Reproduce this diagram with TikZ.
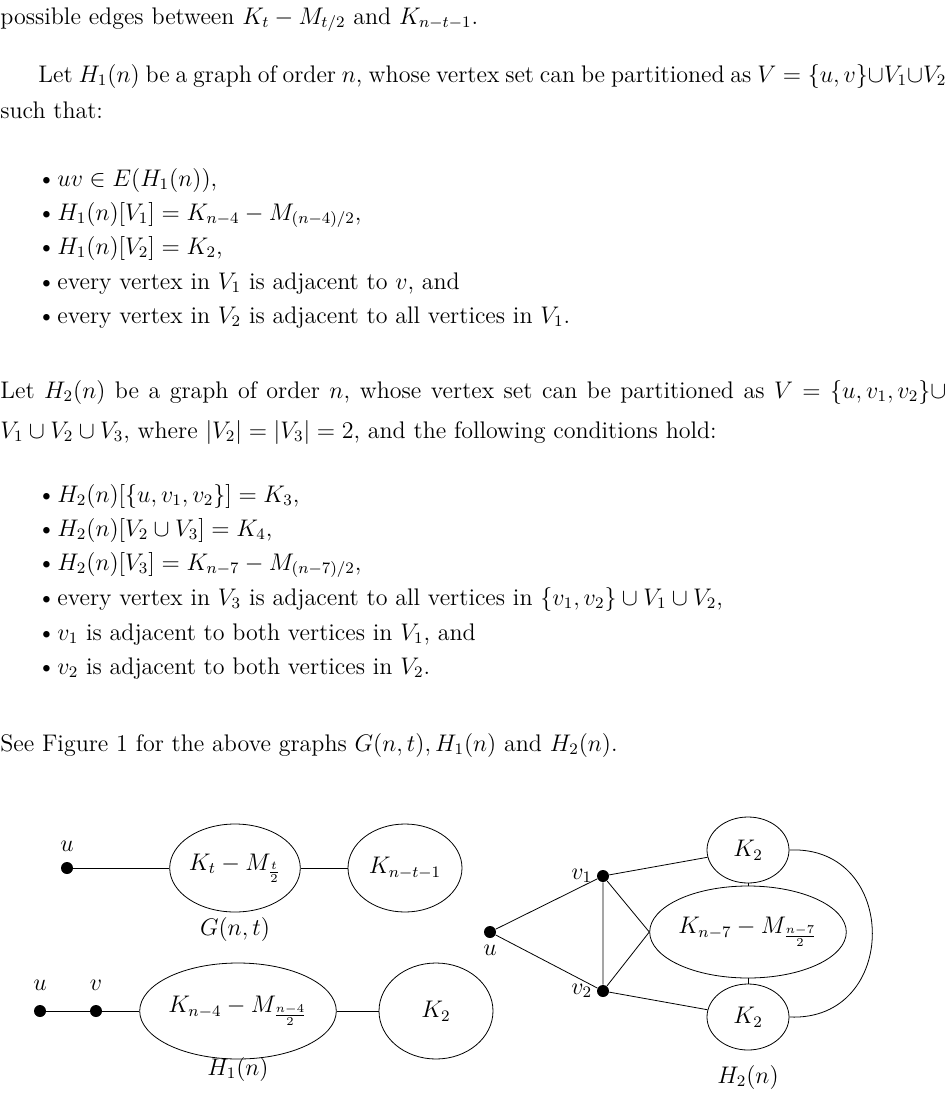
\documentclass[tikz,border=0pt]{standalone}
\usepackage{amsmath,amssymb}
\usetikzlibrary{positioning,shapes.geometric}
\tikzset{
 txt/.style={anchor=base west,inner sep=0pt,font=\fontsize{12}{14}\selectfont},
 item/.style={txt},
 dot/.style={circle,fill=black,inner sep=0pt,minimum size=6pt},
 blob/.style={ellipse,draw,inner sep=0pt,font=\fontsize{12}{14}\selectfont},
 lbl/.style={inner sep=1pt,font=\fontsize{12}{14}\selectfont}
}
\begin{document}
\begin{tikzpicture}[x=0.5pt,y=-0.5pt]
 \useasboundingbox (0,0) rectangle (947,1110);
 % text
 \node[txt] (p0) at (0,24) {possible edges between $K_t-M_{t/2}$ and $K_{n-t-1}$.};
 \node[txt] (p1) at (38,82) {\hbox to 454pt{Let $H_1(n)$ be a graph of order $n$, whose vertex set can be partitioned as $V=\{u,v\}{\cup}V_1{\cup}V_2$}};
 \node[txt] (p2) at (0,118) {such that:};
 \foreach \y/\t in {186/{$uv\in E(H_1(n))$,},
                    220/{$H_1(n)[V_1]=K_{n-4}-M_{(n-4)/2}$,},
                    254/{$H_1(n)[V_2]=K_2$,},
                    289/{every vertex in $V_1$ is adjacent to $v$, and},
                    323/{every vertex in $V_2$ is adjacent to all vertices in $V_1$.}}
 {\node[item] at (37,\y) {\textbullet};
  \node[item] at (57,\y) {\t};}
 \node[txt] (p3) at (0,398) {\hbox to 473pt{Let $H_2(n)$ be a graph of order $n$, whose vertex set can be partitioned as $V=\{u,v_1,v_2\}\cup$}};
 \node[txt] (p4) at (0,438) {$V_1\cup V_2\cup V_3$, where $|V_2|=|V_3|=2$, and the following conditions hold:};
 \foreach \y/\t in {502/{$H_2(n)[\{u,v_1,v_2\}]=K_3$,},
                    536/{$H_2(n)[V_2\cup V_3]=K_4$,},
                    570/{$H_2(n)[V_3]=K_{n-7}-M_{(n-7)/2}$,},
                    605/{every vertex in $V_3$ is adjacent to all vertices in $\{v_1,v_2\}\cup V_1\cup V_2$,},
                    640/{$v_1$ is adjacent to both vertices in $V_1$, and},
                    674/{$v_2$ is adjacent to both vertices in $V_2$.}}
 {\node[item] at (37,\y) {\textbullet};
  \node[item] at (57,\y) {\t};}
 \node[txt] (p5) at (0,751) {See Figure 1 for the above graphs $G(n,t),H_1(n)$ and $H_2(n)$.};
 % G(n,t)
 \node[dot] (gu) at (67,868) {};
 \node[lbl,above=4pt of gu] {$u$};
 \node[blob,minimum width=55pt,minimum height=44pt] (gA) at (235,868) {$K_t-M_{\frac{t}{2}}$};
 \node[blob,minimum width=57pt,minimum height=44pt] (gB) at (405,868) {$K_{n-t-1}$};
 \draw (gu)--(gA) (gA)--(gB);
 \node[lbl] at (235,929) {$G(n,t)$};
 % H_1(n)
 \node[dot] (hu) at (40,1011) {};
 \node[dot] (hv) at (96,1011) {};
 \node[lbl,above=6pt of hu] {$u$};
 \node[lbl,above=6pt of hv] {$v$};
 \node[blob,minimum width=85pt,minimum height=48pt] (hA) at (238,1011) {$K_{n-4}-M_{\frac{n-4}{2}}$};
 \node[blob,minimum width=57pt,minimum height=48pt] (hB) at (436,1011) {$K_2$};
 \draw (hu)--(hv)--(hA)--(hB);
 \node[lbl] at (238,1069) {$H_1(n)$};
 % H_2(n)
 \node[dot] (ku) at (490,932) {};
 \node[dot] (kv1) at (603,876) {};
 \node[dot] (kv2) at (603,991) {};
 \node[lbl,below=2pt of ku] {$u$};
 \node[lbl,left=1pt of kv1] {$v_1$};
 \node[lbl,left=1pt of kv2] {$v_2$};
 \node[blob,minimum width=41pt,minimum height=33pt] (kT) at (748,850) {$K_2$};
 \node[blob,minimum width=88pt,minimum height=46pt] (kM) at (748,932) {$K_{n-7}-M_{\frac{n-7}{2}}$};
 \node[blob,minimum width=41pt,minimum height=33pt] (kB) at (748,1017) {$K_2$};
 \draw (ku)--(kv1)--(kv2)--(ku);
 \draw (kv1)--(kT) (kv1)--(kM.west) (kv2)--(kM.west) (kv2)--(kB);
 \draw (kT)--(kM)--(kB);
 \draw (kT.east) .. controls (900,845) and (900,1022) .. (kB.east);
 \node[lbl] at (748,1077) {$H_2(n)$};
\end{tikzpicture}
\end{document}
